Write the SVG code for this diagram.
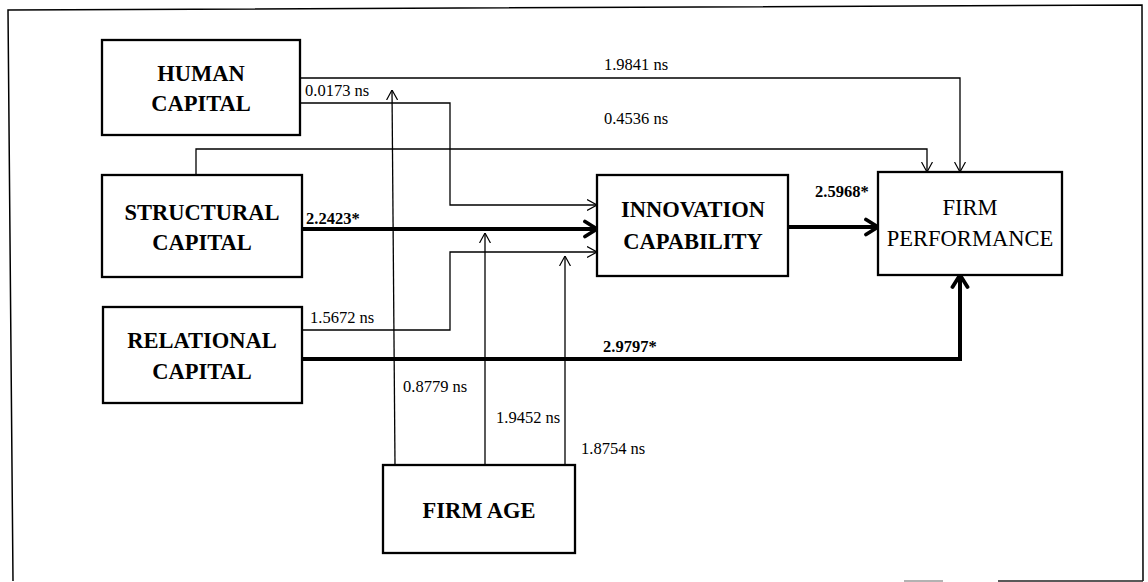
<svg xmlns="http://www.w3.org/2000/svg" width="1148" height="582" viewBox="0 0 1148 582">
<defs>
<marker id="thin" markerUnits="userSpaceOnUse" viewBox="0 0 10 12" refX="10" refY="6" markerWidth="10" markerHeight="12" orient="auto">
<path d="M0,0.5 L10,6 L0,11.5" fill="none" stroke="#000" stroke-width="1.2"/>
</marker>
<marker id="thick" markerUnits="userSpaceOnUse" viewBox="0 0 16 20" refX="14" refY="10" markerWidth="16" markerHeight="20" orient="auto">
<path d="M2,2.5 L14,10 L2,17.5" fill="none" stroke="#000" stroke-width="3.8" stroke-linecap="round" stroke-linejoin="round"/>
</marker>
</defs>
<style>
.box{fill:#fff;stroke:#000;stroke-width:2.3}
.nt{font-family:"Liberation Serif",serif;font-size:22.5px;font-weight:bold;text-anchor:middle;fill:#000}
.nr{font-family:"Liberation Serif",serif;font-size:22.5px;text-anchor:middle;fill:#000}
.el{font-family:"Liberation Serif",serif;font-size:16.5px;fill:#000}
.eb{font-family:"Liberation Serif",serif;font-size:16.5px;font-weight:bold;fill:#000}
.tn{fill:none;stroke:#000;stroke-width:1.3}
.tk{fill:none;stroke:#000;stroke-width:4}
</style>
<rect width="1148" height="582" fill="#fff"/>
<g id="frame">
<path d="M13,581 L8,10 L1142,5 L1143,581" fill="none" stroke="#000" stroke-width="1.5"/>
<line x1="904" y1="581" x2="943" y2="581" stroke="#999" stroke-width="1.5"/>
<line x1="998" y1="581" x2="1143" y2="581" stroke="#222" stroke-width="1.5"/>
</g>
<g id="connectors">
<path class="tn" d="M300,78 H960 V172" marker-end="url(#thin)"/>
<path class="tn" d="M300,103 H450 V205 H597" marker-end="url(#thin)"/>
<path class="tn" d="M196,175 V149 H927 V172" marker-end="url(#thin)"/>
<path class="tk" d="M302,229 H597" marker-end="url(#thick)"/>
<path class="tn" d="M302,330 H450 V252 H597" marker-end="url(#thin)"/>
<path class="tk" d="M302,359 H960 V275" marker-end="url(#thick)"/>
<path class="tk" d="M788,227 H878" marker-end="url(#thick)"/>
<path class="tn" d="M395,465 L392,90" marker-end="url(#thin)"/>
<path class="tn" d="M485,465 V233" marker-end="url(#thin)"/>
<path class="tn" d="M565,465 V256" marker-end="url(#thin)"/>
<text class="el" x="636" y="70" text-anchor="middle">1.9841 ns</text>
<text class="el" x="636" y="124" text-anchor="middle">0.4536 ns</text>
<text class="el" x="305" y="96">0.0173 ns</text>
<text class="eb" x="306" y="224">2.2423*</text>
<text class="eb" x="815" y="197">2.5968*</text>
<text class="el" x="310" y="323">1.5672 ns</text>
<text class="eb" x="603" y="352">2.9797*</text>
<text class="el" x="403" y="392">0.8779 ns</text>
<text class="el" x="496" y="423">1.9452 ns</text>
<text class="el" x="581" y="454">1.8754 ns</text>
</g>
<g id="human">
<rect class="box" x="102" y="40" width="198" height="95"/>
<text class="nt" x="201" y="81">HUMAN</text>
<text class="nt" x="201" y="111">CAPITAL</text>
</g>
<g id="structural">
<rect class="box" x="102" y="175" width="200" height="102"/>
<text class="nt" x="202" y="220">STRUCTURAL</text>
<text class="nt" x="202" y="250">CAPITAL</text>
</g>
<g id="relational">
<rect class="box" x="103" y="307" width="199" height="96"/>
<text class="nt" x="202" y="348">RELATIONAL</text>
<text class="nt" x="202" y="379">CAPITAL</text>
</g>
<g id="innovation">
<rect class="box" x="597" y="175" width="191" height="101"/>
<text class="nt" x="693" y="217">INNOVATION</text>
<text class="nt" x="693" y="249">CAPABILITY</text>
</g>
<g id="performance">
<rect class="box" x="878" y="172" width="184" height="103"/>
<text class="nr" x="970" y="215">FIRM</text>
<text class="nr" x="970" y="246">PERFORMANCE</text>
</g>
<g id="firmage">
<rect class="box" x="383" y="465" width="192" height="88"/>
<text class="nt" x="479" y="518">FIRM AGE</text>
</g>
</svg>
